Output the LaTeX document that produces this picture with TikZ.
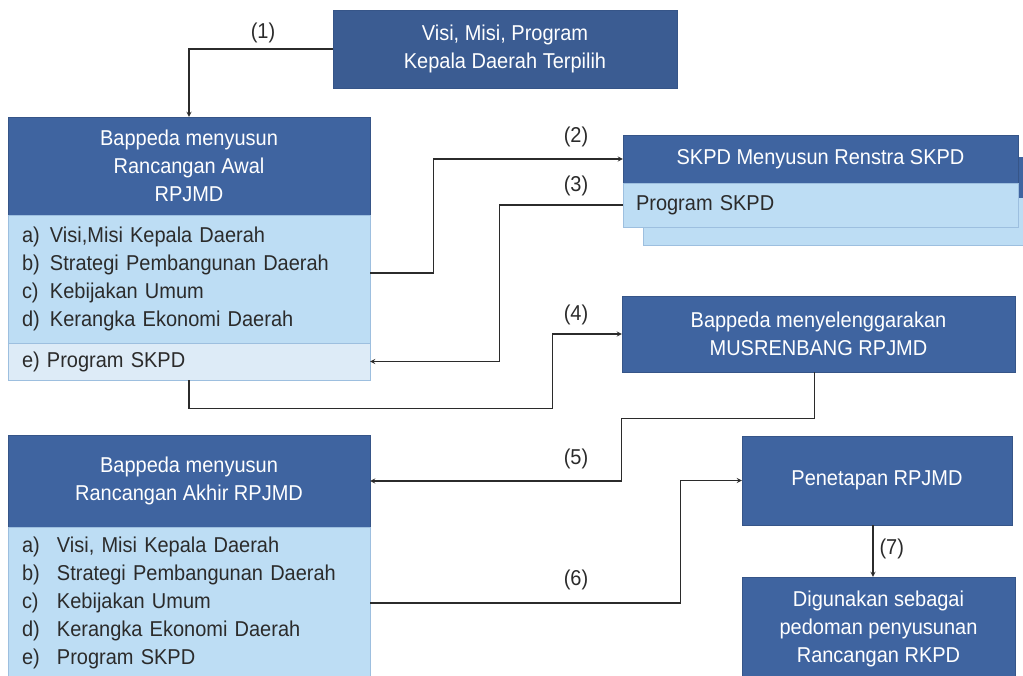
\documentclass[tikz,border=0pt]{standalone}
\usepackage{fontspec}
\setmainfont{Liberation Sans}[FakeStretch=0.93]
\definecolor{biru}{HTML}{3F64A0}
\definecolor{birutua}{HTML}{3B5C92}
\definecolor{birumuda}{HTML}{BDDDF4}
\definecolor{birupucat}{HTML}{DDEBF7}
\definecolor{garis}{HTML}{2B2B2B}
% butir daftar: label a), b), ... lalu teks
\newcommand{\butir}[3][28pt]{\makebox[#1][l]{#2}#3}

\begin{document}
\begin{tikzpicture}[x=1pt, y=-1pt, >=stealth,
  judul/.style={fill=biru, draw=biru!85!black, line width=0.4pt, text=white,
    align=center, inner sep=0pt, font=\fontsize{21.5}{28}\selectfont},
  isi/.style={fill=birumuda, draw=birumuda!75!biru, line width=0.4pt, text=garis,
    align=left, text width=334pt, inner xsep=14pt, inner ysep=0pt,
    font=\fontsize{21.5}{28}\selectfont},
  alur/.style={draw=garis, line width=1.2pt, ->},
  nomor/.style={text=garis, font=\fontsize{21.5}{24}\selectfont}]
  \clip (0,0) rectangle (1023,675);
  \fill[white] (0,0) rectangle (1023,675);
  % kotak kiri atas: rancangan awal
  \node[judul, fill=birutua, minimum width=344pt, minimum height=78pt] (vmp) at (505,49)
    {Visi, Misi, Program\\Kepala Daerah Terpilih};
  \node[judul, minimum width=362pt, minimum height=98pt] (awal) at (189,166)
    {Bappeda menyusun\\Rancangan Awal\\RPJMD};
  \node[isi, minimum height=128pt] (awalisi) at (189,279)
    {\butir{a)}{Visi,Misi Kepala Daerah}\\
     \butir{b)}{Strategi Pembangunan Daerah}\\
     \butir{c)}{Kebijakan Umum}\\
     \butir{d)}{Kerangka Ekonomi Daerah}};
  \node[isi, fill=birupucat, minimum height=37pt] (awalskpd) at (189,361.5) {e) Program SKPD};
  % renstra SKPD (dengan kotak bayangan)
  \filldraw[fill=birumuda, draw=birumuda!75!biru, line width=0.4pt] (643,157) rectangle (1040,245);
  \fill[biru] (643,157) rectangle (1040,198);
  \node[judul, minimum width=395pt, minimum height=48pt] (skpd) at (820.5,159)
    {SKPD Menyusun Renstra SKPD};
  \node[isi, text width=369pt, inner xsep=13pt, minimum height=44pt] (skpdprog) at (820.5,205)
    {Program SKPD};
  \node[judul, minimum width=393pt, minimum height=76pt] (musren) at (818.5,334)
    {Bappeda menyelenggarakan\\MUSRENBANG RPJMD};
  % kotak kiri bawah: rancangan akhir
  \node[judul, minimum width=362pt, minimum height=92pt] (akhir) at (189,481)
    {Bappeda menyusun\\Rancangan Akhir RPJMD};
  \node[isi, minimum height=152pt] (akhirisi) at (189,603)
    {\butir[35pt]{a)}{Visi, Misi Kepala Daerah}\\
     \butir[35pt]{b)}{Strategi Pembangunan Daerah}\\
     \butir[35pt]{c)}{Kebijakan Umum}\\
     \butir[35pt]{d)}{Kerangka Ekonomi Daerah}\\
     \butir[35pt]{e)}{Program SKPD}};
  \node[judul, minimum width=270pt, minimum height=89pt] (tetap) at (877,480.5) {Penetapan RPJMD};
  \node[judul, minimum width=273pt, minimum height=104pt] (guna) at (878.5,629)
    {Digunakan sebagai\\pedoman penyusunan\\Rancangan RKPD};
  % alur (1)--(7)
  \draw[alur] (vmp.west) -| (awal.north);
  \draw[alur] ([yshift=6pt]awalisi.east) -- ++(63,0) |- (skpd.west);
  \draw[alur] (skpdprog.west) -- ++(-123,0) |- (awalskpd.east);
  \draw[alur] (awalskpd.south) -- ++(0,28) -| ([xshift=-69pt]musren.west) -- (musren.west);
  \draw[alur] ([xshift=-4pt]musren.south) -- ++(0,46) -| (akhir.east -| musren.west)
    -- (akhir.east);
  \draw[alur] (akhirisi.east) -- ++(310,0) |- (tetap.west);
  \draw[alur] ([xshift=-4pt]tetap.south) -- ([xshift=-4pt]tetap.south |- guna.north);
  \node[nomor] (n1) at (263,33) {(1)};
  \node[nomor] (n2) at (576,137) {(2)};
  \node[nomor] (n3) at (576,186) {(3)};
  \node[nomor] (n4) at (576,315) {(4)};
  \node[nomor] (n5) at (576,459) {(5)};
  \node[nomor] (n6) at (576,580) {(6)};
  \node[nomor, anchor=west] (n7) at (876,549) {(7)};
\end{tikzpicture}
\end{document}
